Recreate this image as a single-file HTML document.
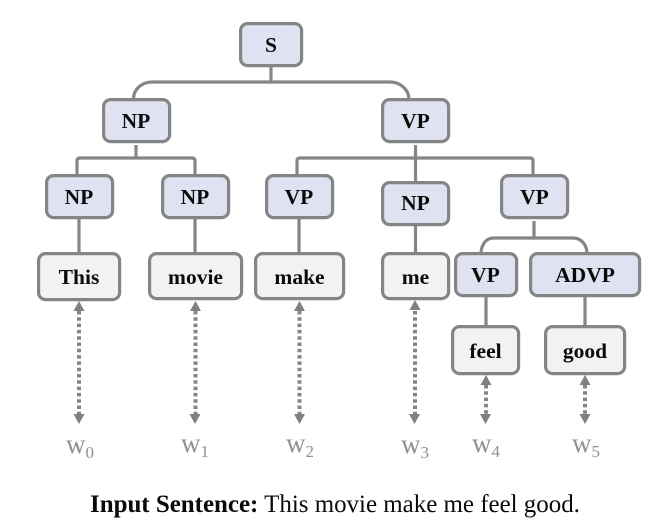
<!DOCTYPE html>
<html><head><meta charset="utf-8"><style>
html,body{margin:0;padding:0;background:#fff}
svg{display:block}
text{font-family:"Liberation Serif",serif}
.n{font-weight:bold;font-size:21.5px;fill:#0a0a0a;text-anchor:middle}
.b{fill:#dfe3f1;stroke:#858585;stroke-width:3.2}
.g{fill:#f2f2f2;stroke:#858585;stroke-width:3.2}
.l{fill:none;stroke:#858585;stroke-width:3.2}
.d{fill:none;stroke:#858585;stroke-width:4;stroke-dasharray:3.5 2.8}
.a{fill:#808080}
.w{font-size:27px;fill:#909090;text-anchor:middle}
.w tspan{font-size:17px}
</style></head><body>
<svg width="665" height="532" viewBox="0 0 665 532" xmlns="http://www.w3.org/2000/svg">
<g class="l">
<path d="M271 67V82"/>
<path d="M133.500 98C134 89 142 82 152 82H390C400 82 408 89 409 98"/>
<path d="M136 145V158"/>
<path d="M77 174V161Q77 158 80 158H192Q195 158 195 161V174"/>
<path d="M415.500 145V181"/>
<path d="M297 174V161Q297 158 300 158H530Q533 158 533 161V174"/>
<path d="M79 219V252M195 219V252M299 219V252M415.500 226V252"/>
<path d="M534 221V238"/>
<path d="M481 252C482 244 486 238 494 238H573C581 238 586 244 587 252"/>
<path d="M486 297V325M585 297V325"/>
</g>
<g>
<rect class="b" x="240.600" y="23.600" width="61" height="42" rx="7"/>
<rect class="b" x="103.600" y="99.600" width="66" height="42" rx="7"/>
<rect class="b" x="382.600" y="99.600" width="66" height="42" rx="7"/>
<rect class="b" x="46.600" y="175.600" width="66" height="42" rx="7"/>
<rect class="b" x="162.600" y="175.600" width="66" height="42" rx="7"/>
<rect class="b" x="266.600" y="175.600" width="66" height="42" rx="7"/>
<rect class="b" x="382.600" y="182.600" width="66" height="42" rx="7"/>
<rect class="b" x="501.600" y="175.600" width="66" height="42" rx="7"/>
<rect class="b" x="455.600" y="253.600" width="61" height="42" rx="7"/>
<rect class="b" x="530.600" y="253.600" width="109" height="42" rx="7"/>
<rect class="g" x="38.600" y="253.600" width="81" height="46" rx="7"/>
<rect class="g" x="149.600" y="253.600" width="92" height="45" rx="7"/>
<rect class="g" x="255.600" y="253.600" width="88" height="45" rx="7"/>
<rect class="g" x="382.600" y="253.600" width="66" height="45" rx="7"/>
<rect class="g" x="452.600" y="326.600" width="66" height="47" rx="7"/>
<rect class="g" x="545.600" y="326.600" width="79" height="47" rx="7"/>
</g>
<text class="n" x="271" y="52">S</text>
<text class="n" x="136" y="128">NP</text>
<text class="n" x="415.500" y="128">VP</text>
<text class="n" x="79" y="204">NP</text>
<text class="n" x="195" y="204">NP</text>
<text class="n" x="299" y="204">VP</text>
<text class="n" x="415.500" y="210">NP</text>
<text class="n" x="534.500" y="204">VP</text>
<text class="n" x="79" y="284">This</text>
<text class="n" x="195.500" y="284">movie</text>
<text class="n" x="299.500" y="284">make</text>
<text class="n" x="415.500" y="284">me</text>
<text class="n" x="485.500" y="282">VP</text>
<text class="n" x="585" y="282">ADVP</text>
<text class="n" x="485.500" y="358">feel</text>
<text class="n" x="585" y="358">good</text>
<g class="d">
<path d="M79 311V416M195.500 311V416M299.500 311V416M415 311V416M486 385V416M585 385V416"/>
</g>
<g class="a">
<path d="M79 301l5.500 10h-11zM79 424l-5.500-10h11z"/>
<path d="M195.500 301l5.500 10h-11zM195 424l-5.500-10h11z"/>
<path d="M299.500 301l5.500 10h-11zM299.500 424l-5.500-10h11z"/>
<path d="M415 300l5.500 10h-11zM414.500 424l-5.500-10h11z"/>
<path d="M486 375l5.500 10h-11zM485.500 424l-5.500-10h11z"/>
<path d="M585 375l5.500 10h-11zM585 424l-5.500-10h11z"/>
</g>
<text class="w" x="80" y="453">w<tspan dy="5">0</tspan></text>
<text class="w" x="195" y="452">w<tspan dy="5">1</tspan></text>
<text class="w" x="300" y="452">w<tspan dy="5">2</tspan></text>
<text class="w" x="415" y="453">w<tspan dy="5">3</tspan></text>
<text class="w" x="486" y="452">w<tspan dy="5">4</tspan></text>
<text class="w" x="586" y="452">w<tspan dy="5">5</tspan></text>
<text x="90" y="512" font-size="24.950" fill="#0a0a0a"><tspan font-weight="bold">Input Sentence:</tspan> This movie make me feel good.</text>
</svg>
</body></html>
